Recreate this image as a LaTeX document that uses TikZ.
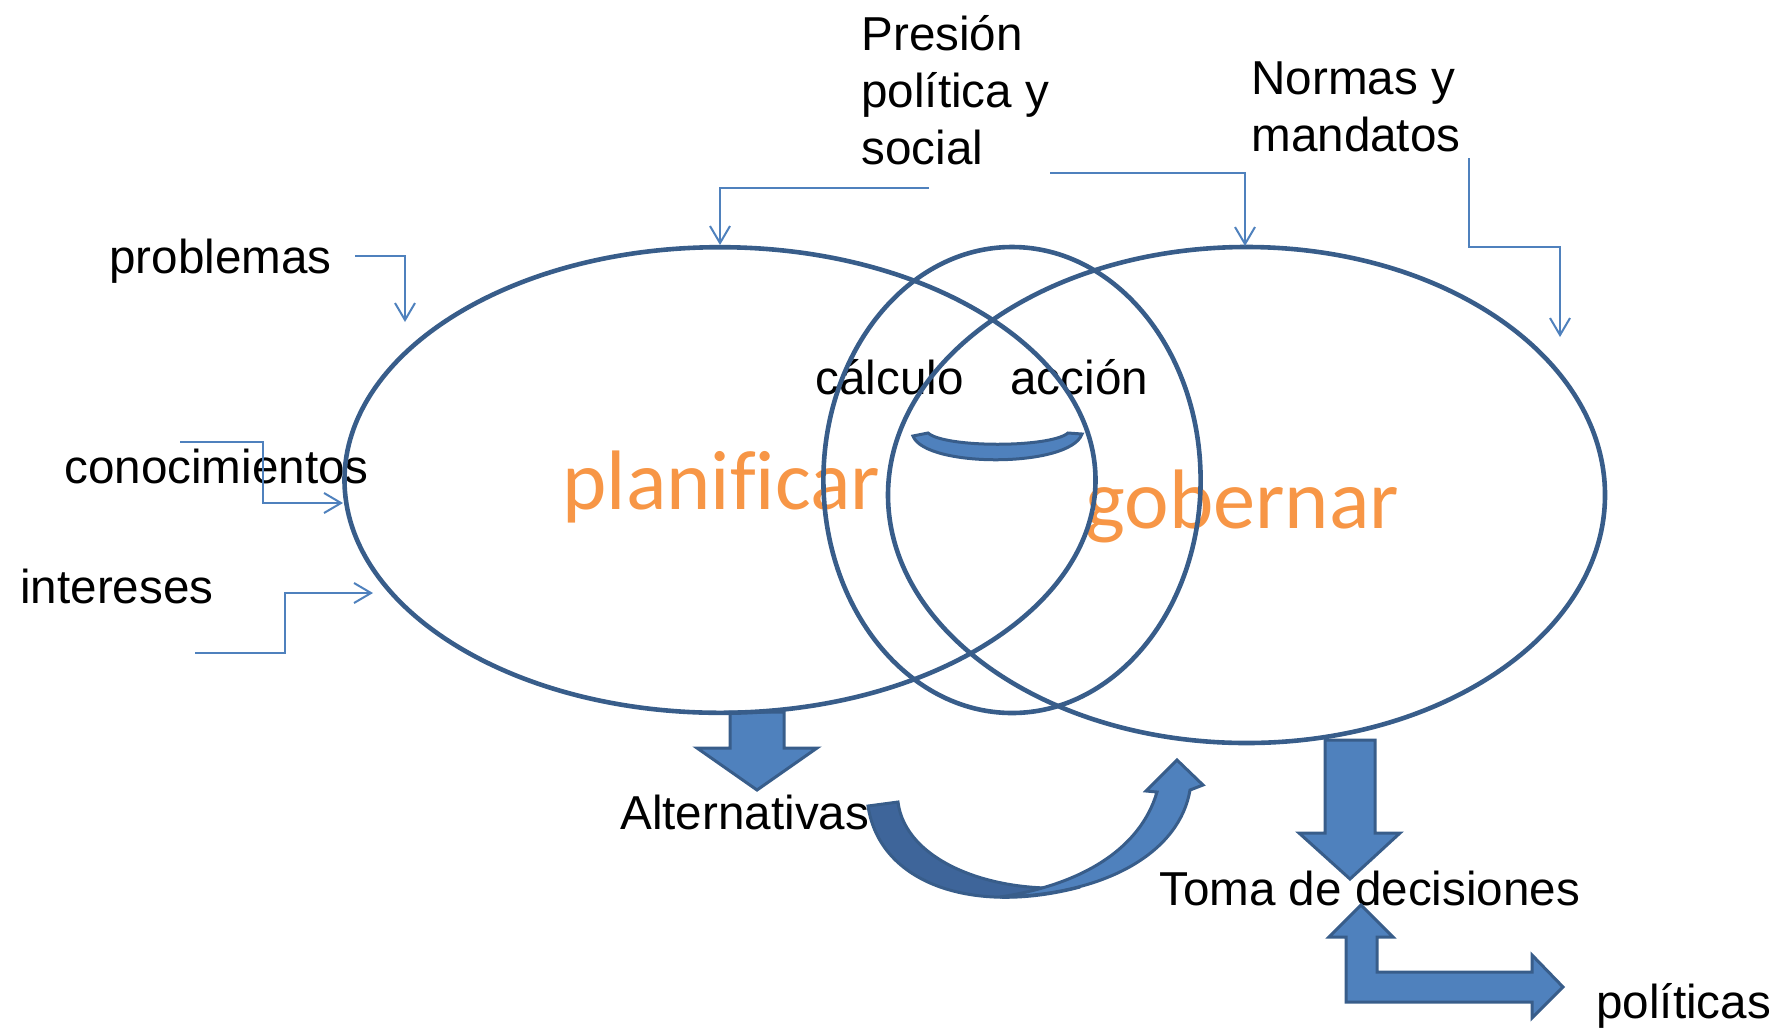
\documentclass[tikz,border=0pt]{standalone}
\usepackage{fontspec}
\setmainfont{Liberation Sans}
\newfontfamily\calib[Ligatures=NoCommon]{Carlito}
\usetikzlibrary{shapes.geometric,arrows.meta}
\definecolor{edgeblue}{HTML}{385D8A}
\definecolor{lineblue}{HTML}{4F81BD}
\definecolor{fillblue}{HTML}{4F81BD}
\definecolor{darkfill}{HTML}{3E659A}
\definecolor{orangetxt}{HTML}{F79646}
\begin{document}
\begin{tikzpicture}[x=0.5pt,y=-0.5pt,
  lbl/.style={anchor=base west, inner sep=0pt, font=\fontsize{23.8}{28.5}\selectfont, align=left},
  big/.style={anchor=base west, inner sep=0pt, font=\calib\fontsize{42.2}{50}\selectfont, text=orangetxt},
  ring/.style={ellipse, draw=edgeblue, line width=2.3pt, inner sep=0pt},
  conn/.style={draw=lineblue, line width=1pt, -{Straight Barb[length=8.5pt,width=10pt,line width=1pt]}},
  block/.style={fill=fillblue, draw=edgeblue, line width=1.5pt, line join=miter}
]
\useasboundingbox (0,0) rectangle (1776,1034);

% texts
\node[lbl] (pres) at (861,164) {Presión\\política y\\social};
\node[lbl] (norm) at (1251,151) {Normas y\\mandatos};
\node[lbl] (prob) at (109,273) {problemas};
\node[lbl] (cono) at (64,483) {conocimientos};
\node[lbl] (inte) at (20,603) {intereses};
\node[lbl] (calc) at (815,394) {cálculo};
\node[lbl] (acci) at (1010,394) {acción};
\node[lbl] (alt) at (620,829) {Alternativas};
\node[lbl] (toma) at (1159,905) {Toma de decisiones};
\node[lbl] (pol) at (1596,1018) {políticas};
\node[big] (planif) at (562,509) {planificar};
\node[big] (gobern) at (1085,528) {gobernar};

% block arrows
\draw[block] (730,712) -- (784,712) -- (784,748) -- (817,748) -- (757,790) -- (697,748) -- (730,748) -- cycle;
\draw[block] (1325,740) -- (1375,740) -- (1375,833) -- (1400,833) -- (1350,879) -- (1299,833) -- (1325,833) -- cycle;
\draw[block] (1361,905) -- (1393,937) -- (1377,937) -- (1377,972) -- (1532,972) -- (1532,955) -- (1563,987)
  -- (1532,1018) -- (1532,1002) -- (1346,1002) -- (1346,937) -- (1329,937) -- cycle;

% curved arrow
\draw[block, fill=darkfill] (868,806) .. controls (880,885) and (975,915) .. (1080,887)
  .. controls (990,895) and (905,860) .. (898,802) -- cycle;
\draw[block] (1000,897) .. controls (1110,895) and (1180,850) .. (1190,790)
  -- (1203,785) -- (1177,760) -- (1146,791) -- (1157,792)
  .. controls (1140,850) and (1080,885) .. (1000,897) -- cycle;

% small block arc
\draw[block] (913,436) .. controls (925,468) and (1070,468) .. (1082,434) -- (1068,433)
  .. controls (1050,448) and (945,448) .. (928,433) -- cycle;

% rings
\node[ring, minimum width=375.5pt, minimum height=232.8pt] (plan) at (720,480) {};
\node[ring, minimum width=188.6pt, minimum height=233pt] (mid) at (1012,480) {};
\node[ring, minimum width=358.5pt, minimum height=248pt] (gob) at (1246.5,495) {};

% connectors
\coordinate (probA) at (355,256); \coordinate (probB) at (405,256); \coordinate (probC) at (405,322);
\draw[conn] (probA) -- (probB) -- (probC);
\coordinate (conA) at (180,442); \coordinate (conB) at (263,442); \coordinate (conC) at (263,503); \coordinate (conD) at (343,503);
\draw[conn] (conA) -- (conB) -- (conC) -- (conD);
\coordinate (intA) at (195,653); \coordinate (intB) at (285,653); \coordinate (intC) at (285,593); \coordinate (intD) at (373,593);
\draw[conn] (intA) -- (intB) -- (intC) -- (intD);
\coordinate (plA) at (929,188); \coordinate (plB) at (720,188); \coordinate (plC) at (720,245);
\draw[conn] (plA) -- (plB) -- (plC);
\coordinate (prA) at (1050,173); \coordinate (prB) at (1245,173); \coordinate (prC) at (1245,246);
\draw[conn] (prA) -- (prB) -- (prC);
\coordinate (nmA) at (1469,158); \coordinate (nmB) at (1469,247); \coordinate (nmC) at (1560,247); \coordinate (nmD) at (1560,337);
\draw[conn] (nmA) -- (nmB) -- (nmC) -- (nmD);
\end{tikzpicture}
\end{document}
